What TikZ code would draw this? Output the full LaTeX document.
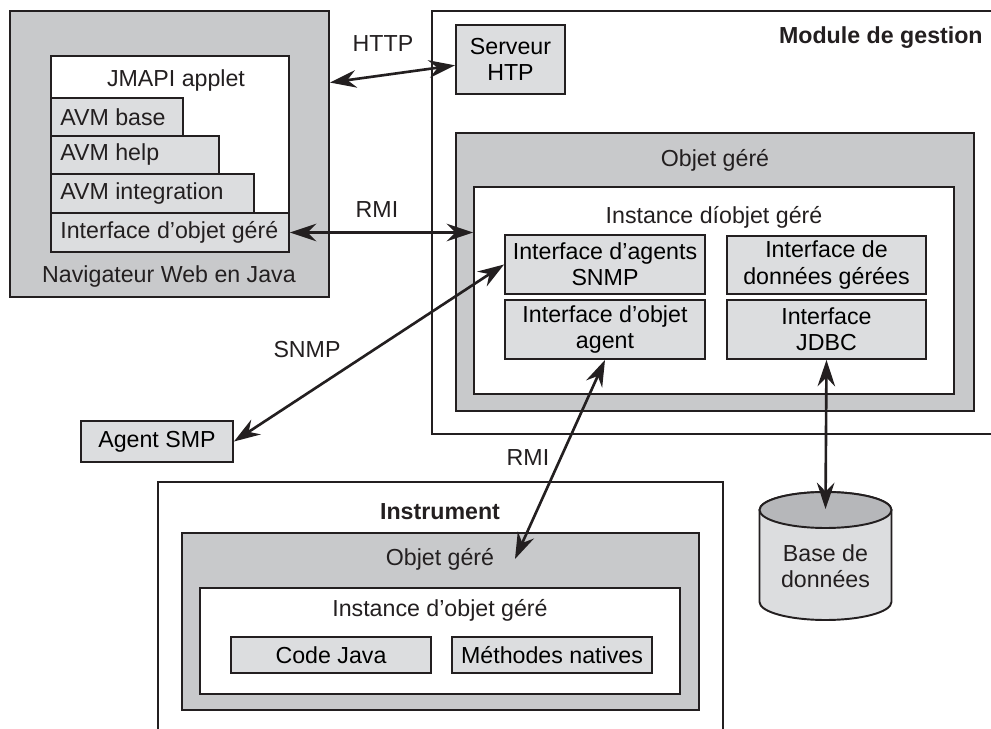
\documentclass[tikz,border=0pt]{standalone}
\usepackage{fontspec}
\setmainfont{Liberation Sans}
\usetikzlibrary{arrows.meta,fit}
\definecolor{trait}{RGB}{35,31,32}
\definecolor{grisfonce}{RGB}{200,201,203}
\definecolor{grisclair}{RGB}{220,221,223}
\definecolor{grismoyen}{RGB}{182,183,186}
\newcommand{\policeFig}{\fontsize{13.2}{15}\selectfont}
\tikzset{
    cadre/.style={draw=trait, line width=0.9pt},
    fondgris/.style={draw=trait, fill=grisfonce, line width=1.1pt, inner sep=0pt},
    fondblanc/.style={draw=trait, fill=white, line width=1.1pt, inner sep=0pt},
    bloc/.style={draw=trait, fill=grisclair, line width=1.1pt, inner sep=0pt, align=center},
    avm/.style={bloc, label={[texte, anchor=west, xshift=0.2cm]west:#1}},
    texte/.style={inner sep=0pt, align=center, text=trait},
    titre/.style={texte, font=\policeFig\bfseries},
    fleche/.style={
        {Stealth[length=15pt, width=10pt, inset=5pt]}-{Stealth[length=15pt, width=10pt, inset=5pt]},
        line width=1.5pt, draw=trait
    }
}
\begin{document}
\begin{tikzpicture}[x=0.02cm, y=-0.02cm, font=\policeFig]
    \useasboundingbox (0,0) rectangle (991,729);

    % cadres ouverts
    \draw[cadre] (991,11) -- (432,11) -- (432,434) -- (991,434);
    \draw[cadre] (158,729) -- (158,482) -- (723,482) -- (723,729);

    % navigateur
    \node[fondgris, fit={(10,11) (329,297)}] (nav) {};
    \node[fondblanc, fit={(51,56) (289,252)}] (jmapi) {};
    \node[texte] (tJmapi) at (176,81) {JMAPI applet};
    \node[avm=AVM base, fit={(51,98) (183,136)}] (avmBase) {};
    \node[avm=AVM help, fit={(51,136) (219,174)}] (avmHelp) {};
    \node[avm=AVM integration, fit={(51,174) (254,213)}] (avmInteg) {};
    \node[avm=Interface d’objet géré, fit={(51,213) (289,252)}] (ifaceObj) {};
    \node[texte] (tNav) at (169,277) {Navigateur Web en Java};

    % module de gestion
    \node[titre, anchor=east] (tModule) at (983,38) {Module de gestion};
    \node[bloc, minimum width=2.18cm, minimum height=1.38cm] (serveur) at (510.5,59.5) {Serveur\\HTP};
    \node[fondgris, fit={(456,133) (974,411)}] (objGere) {};
    \node[texte] (tObjGere) at (715,160) {Objet géré};
    \node[fondblanc, fit={(474,187) (954,394)}] (inst) {};
    \node[texte] (tInst) at (714,217) {Instance díobjet géré};
    \node[bloc, minimum width=4cm, minimum height=1.18cm] (snmp) at (605,264.5) {Interface d’agents\\SNMP};
    \node[bloc, minimum width=4cm, minimum height=1.18cm] (objAgent) at (605,329.5) {Interface d’objet\\agent};
    \node[bloc, minimum width=3.98cm, minimum height=1.16cm] (donnees) at (826.5,265) {Interface de\\données gérées};
    \node[bloc, minimum width=3.98cm, minimum height=1.18cm] (jdbc) at (826.5,329.5) {Interface\\JDBC};

    \node[bloc, minimum width=3.04cm, minimum height=0.82cm] (agent) at (157,441.5) {Agent SMP};

    % instrument
    \node[titre] (tInstrument) at (440,512) {Instrument};
    \node[fondgris, fit={(182,533) (699,710)}] (objGere2) {};
    \node[texte] (tObjGere2) at (440,559) {Objet géré};
    \node[fondblanc, fit={(200,588) (680,694)}] (inst2) {};
    \node[texte] (tInst2) at (440,610) {Instance d’objet géré};
    \node[bloc, minimum width=4cm, minimum height=0.72cm] (codeJava) at (331,655) {Code Java};
    \node[bloc, minimum width=4cm, minimum height=0.72cm] (natives) at (552,655) {Méthodes natives};
    \coordinate (rmiBas) at (515,559);

    % base de donnees
    \filldraw[fill=grisclair, draw=trait, line width=1.1pt]
        (759.5,510) -- (759.5,602) arc[start angle=180, end angle=360, x radius=1.32cm, y radius=0.36cm]
        -- (891.5,510) arc[start angle=0, end angle=180, x radius=1.32cm, y radius=0.36cm] -- cycle;
    \filldraw[fill=grismoyen, draw=trait, line width=1.1pt] (825.5,510) ellipse[x radius=1.32cm, y radius=0.36cm];
    \node[texte] (bdd) at (825.5,566) {Base de\\données};
    \coordinate (bddHaut) at (825.5,509);

    % liaisons
    \node[texte] (tHttp) at (383,44) {HTTP};
    \node[texte] (tRmi) at (377,210) {RMI};
    \node[texte] (tSnmp) at (307,350) {SNMP};
    \node[texte] (tRmi2) at (528,458) {RMI};
    \draw[fleche] (nav.24) -- (serveur.186);
    \draw[fleche] (ifaceObj.east) -- (ifaceObj.east -| inst.west);
    \draw[fleche] (snmp.west) -- (agent.east);
    \draw[fleche] (objAgent.south) -- (rmiBas);
    \draw[fleche] (jdbc.south) -- (bddHaut);

\end{tikzpicture}
\end{document}
